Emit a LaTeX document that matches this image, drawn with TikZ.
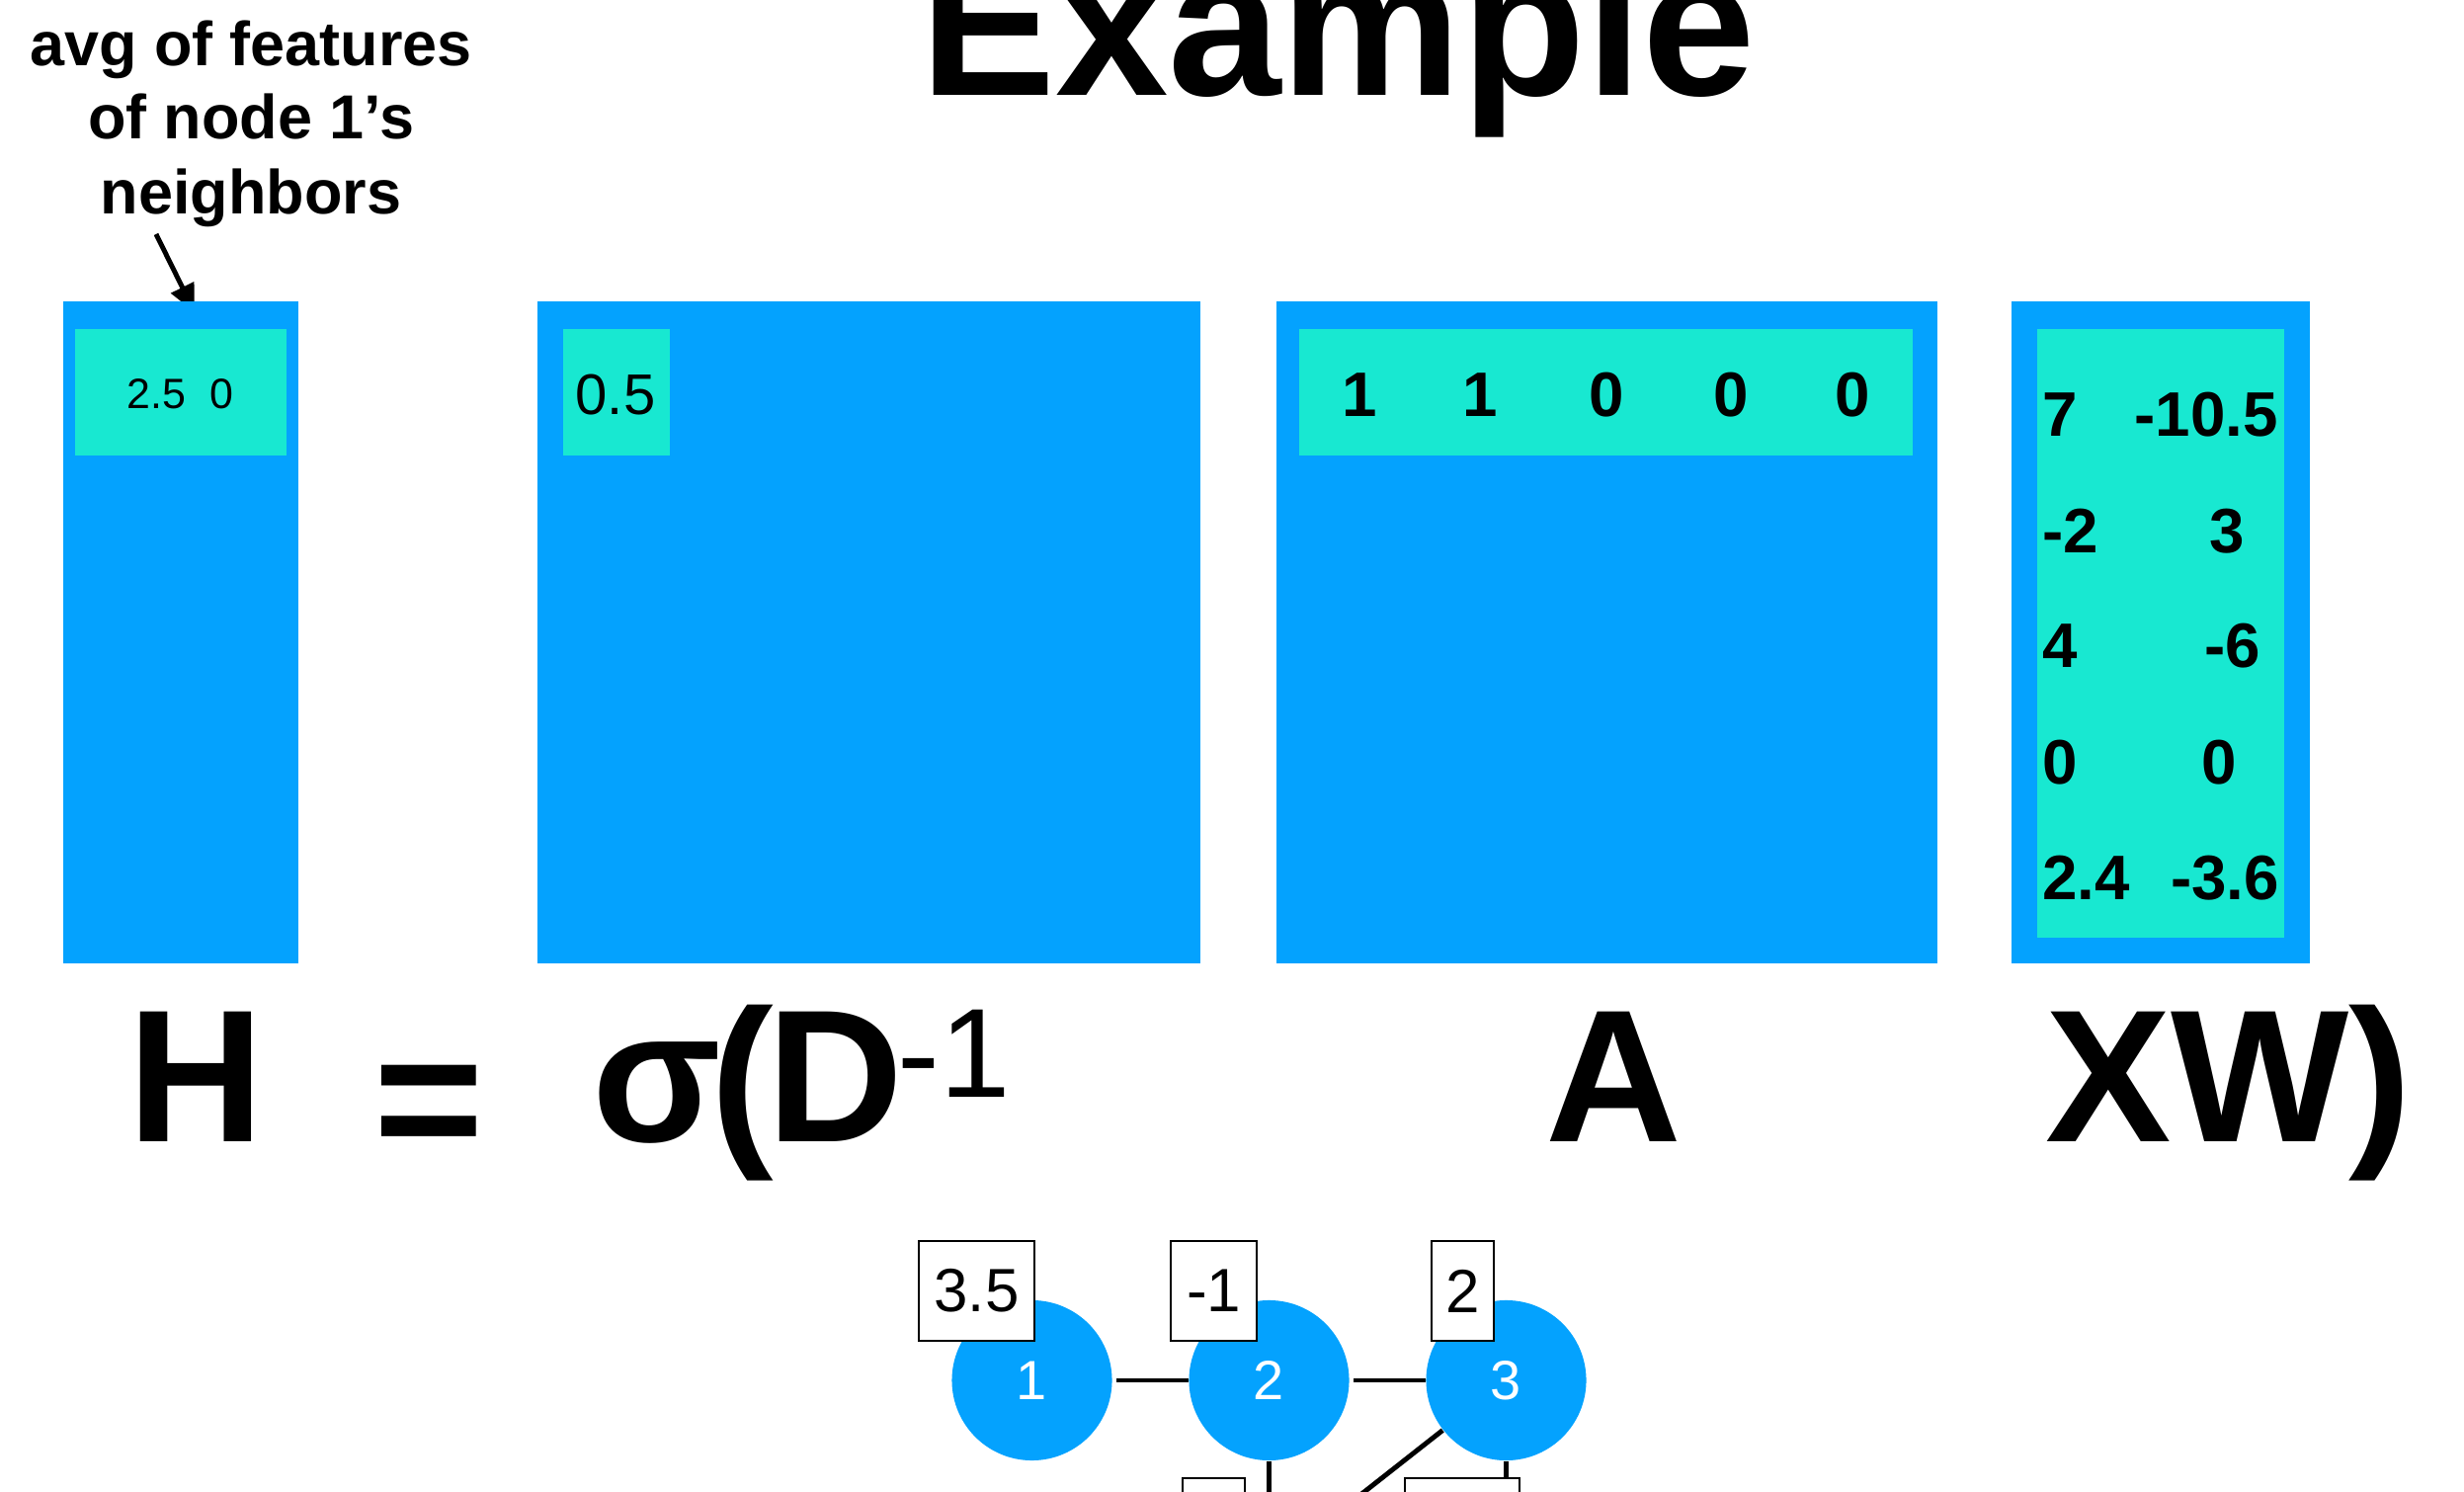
\documentclass[tikz,border=0pt]{standalone}
\usepackage{fontspec}
\setmainfont{Liberation Sans}
\usetikzlibrary{arrows.meta}
\definecolor{mblue}{RGB}{4,162,254}
\definecolor{mteal}{RGB}{24,232,209}
\newcommand{\myfs}[1]{\fontsize{#1}{#1}\selectfont}
\tikzset{
  outerbox/.style={fill=mblue, draw=none},
  innerbox/.style={fill=mteal, draw=none},
  txt/.style={inner sep=0pt, outer sep=0pt, text=black},
  annot/.style={txt, font=\bfseries\myfs{17.9pt}, anchor=base},
  smallval/.style={txt, font=\myfs{12.2pt}, anchor=base},
  midval/.style={txt, font=\myfs{16.5pt}, anchor=base},
  bigval/.style={txt, font=\bfseries\myfs{18.1pt}, anchor=base},
  formula/.style={txt, font=\bfseries\myfs{54.3pt}, anchor=base},
  supscr/.style={txt, font=\myfs{36.5pt}, anchor=base},
  gnode/.style={circle, fill=mblue, draw=none, minimum size=1.62cm, inner sep=0pt, text=white, font=\myfs{15.9pt}},
  valbox/.style={draw=black, line width=0.7pt, fill=white, inner sep=0pt, minimum height=1.01cm, font=\myfs{17.6pt}},
  edge/.style={draw=black, line width=1.4pt},
  pointer/.style={draw=black, line width=1.4pt, -{Triangle[length=0.28cm, width=0.25cm]}}
}
\begin{document}
\begin{tikzpicture}[x=0.01cm, y=-0.01cm]
\useasboundingbox (0,0) rectangle (2494,1510);
\clip (0,0) rectangle (2494,1510);
\fill[white] (0,0) rectangle (2494,1510);

% title
\node[txt, font=\bfseries\myfs{58.5pt}, anchor=base west] (title) at (931,97) {Example};

% annotation
\node[annot] (an1) at (254,67) {avg of features};
\node[annot] (an2) at (254,141) {of node 1’s};
\node[annot] (an3) at (254,217) {neighbors};
\coordinate (arrs) at (158,237);
\coordinate (arre) at (197,316);
\draw[pointer] (arrs) -- (arre);

% H matrix
\path[outerbox] (64,305) rectangle (302,975);
\path[innerbox] (76,333) rectangle (290,461);
\node[smallval] (h1) at (158.5,414) {2.5};
\node[smallval] (h2) at (224.5,414) {0};

% D matrix
\path[outerbox] (544,305) rectangle (1215,975);
\path[innerbox] (570,333) rectangle (678,461);
\node[midval] (d1) at (623,420) {0.5};

% A matrix
\path[outerbox] (1292,305) rectangle (1961,975);
\path[innerbox] (1315,333) rectangle (1936,461);
\node[bigval] (a1) at (1376,422) {1};
\node[bigval] (a2) at (1498,422) {1};
\node[bigval] (a3) at (1626,422) {0};
\node[bigval] (a4) at (1752,422) {0};
\node[bigval] (a5) at (1875,422) {0};

% XW matrix
\path[outerbox] (2036,305) rectangle (2338,975);
\path[innerbox] (2062,333) rectangle (2312,949);
\node[bigval, anchor=base west] (x11) at (2067,442) {7};
\node[bigval] (x12) at (2233,442) {-10.5};
\node[bigval, anchor=base west] (x21) at (2067,560) {-2};
\node[bigval] (x22) at (2254,560) {3};
\node[bigval, anchor=base west] (x31) at (2067,676) {4};
\node[bigval] (x32) at (2260,676) {-6};
\node[bigval, anchor=base west] (x41) at (2067,794) {0};
\node[bigval] (x42) at (2246,794) {0};
\node[bigval, anchor=base west] (x51) at (2067,910) {2.4};
\node[bigval] (x52) at (2252,910) {-3.6};

% formula
\node[formula] (fH) at (198.5,1155) {H};
\node[formula] (fEq) at (434,1177) {=};
\node[formula] (fSig) at (665,1155) {σ};
\node[formula] (fPar) at (751,1155) {(};
\node[formula] (fD) at (845,1155) {D};
\node[supscr] (fSup) at (966,1110) {-1};
\node[formula] (fA) at (1633,1155) {A};
\node[formula, anchor=base west] (fXW) at (2070,1155) {XW)};

% graph
\node[gnode] (n1) at (1044.5,1397) {1};
\node[gnode] (n2) at (1284.5,1397) {2};
\node[gnode] (n3) at (1524.5,1397) {3};
\coordinate (n2end) at (1284.5,1640);
\coordinate (n3end) at (1340,1542);
\node[valbox, minimum width=0.63cm] (bl2) at (1228.5,1546.5) {};
\node[valbox, minimum width=1.16cm] (bl3) at (1480,1546.5) {};
\draw[edge, shorten <=0.04cm] (n1) -- (n2);
\draw[edge, shorten <=0.04cm] (n2) -- (n3);
\draw[edge] (n2.south) -- (n2end);
\draw[edge] (n3) -- (n3end);
\draw[edge] (n3.south) -- (bl3.north -| n3.south);
\node[valbox, minimum width=1.17cm] (b1) at (988.5,1306.5) {3.5};
\node[valbox, minimum width=0.87cm] (b2) at (1228.5,1306.5) {-1};
\node[valbox, minimum width=0.63cm] (b3) at (1480.5,1306.5) {2};
\end{tikzpicture}
\end{document}
